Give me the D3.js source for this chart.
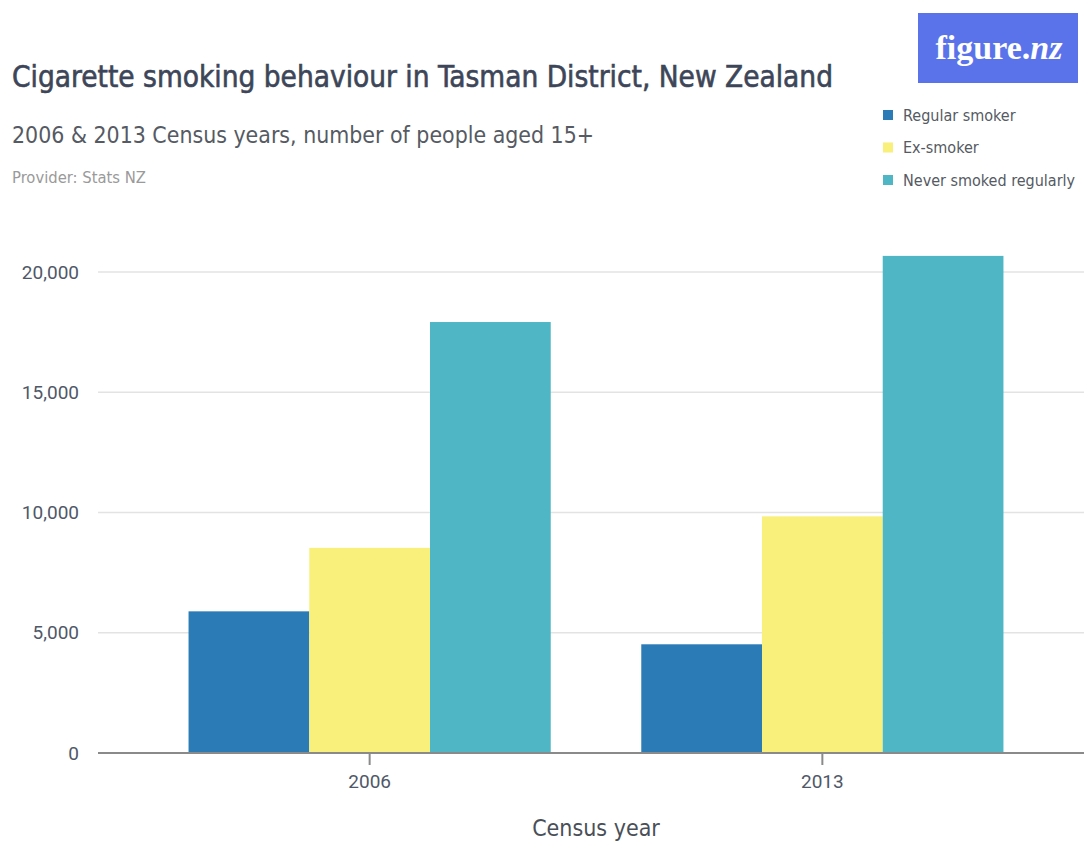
<!DOCTYPE html>
<html><head><meta charset="utf-8">
<script src="https://cdn.jsdelivr.net/npm/d3@7"></script>
<style>
html,body{margin:0;padding:0;background:#fff;}
svg{display:block;}
text{font-family:"Liberation Sans Narrow","DejaVu Sans Condensed","Roboto Condensed",Roboto,sans-serif;}
</style></head>
<body>
<svg id="chart" width="1084" height="841"></svg>
<script>
const categories = ["2006", "2013"];
const seriesNames = ["Regular smoker", "Ex-smoker", "Never smoked regularly"];
const regularSmoker = [5890, 4520];
const exSmoker = [8530, 9840];
const neverSmoked = [17920, 20670];
const yTicks = [0, 5000, 10000, 15000, 20000];
const colors = ["#2b7bb6", "#f8f07b", "#4fb6c5"];

const values = [regularSmoker, exSmoker, neverSmoked];
const data = categories.map((c, i) => ({cat: c, vals: seriesNames.map((s, j) => ({series: s, value: values[j][i], idx: j}))}));

const svg = d3.select("#chart");
const left = 98, baseY = 753, topY = 272;

const x0 = d3.scaleBand().domain(categories).range([left, 1094]).paddingInner(0.2).paddingOuter(0.2);
const x1 = d3.scaleBand().domain(seriesNames).range([0, x0.bandwidth()]);
const y = d3.scaleLinear().domain([0, 20000]).range([baseY, topY]);

// gridlines
svg.append("g").selectAll("line").data(yTicks.filter(d => d > 0)).join("line")
  .attr("x1", left).attr("x2", 1084)
  .attr("y1", d => y(d)).attr("y2", d => y(d))
  .attr("stroke", "#e3e3e3").attr("stroke-width", 1.5);

// y labels
svg.append("g").selectAll("text").data(yTicks).join("text")
  .attr("x", 79).attr("y", d => y(d)).attr("dy", "0.35em")
  .attr("text-anchor", "end").attr("fill", "#4f5868")
  .style("font-family", "Roboto, sans-serif").style("font-size", "19px")
  .text(d => d3.format(",")(d));

// bars
svg.append("g").selectAll("g").data(data).join("g")
  .attr("transform", d => `translate(${x0(d.cat)},0)`)
  .selectAll("rect").data(d => d.vals).join("rect")
  .attr("x", d => x1(d.series)).attr("width", x1.bandwidth())
  .attr("y", d => y(d.value)).attr("height", d => y(0) - y(d.value))
  .attr("fill", d => colors[d.idx]);

// x axis
const xAxis = d3.axisBottom(x0).tickSize(12).tickSizeOuter(0);
const gx = svg.append("g").attr("transform", `translate(0,${baseY})`).call(xAxis);
gx.select(".domain").attr("d", `M${left},0H1084`).attr("stroke", "#8a8a8a").attr("stroke-width", 2);
gx.selectAll(".tick line").attr("stroke", "#8a8a8a").attr("stroke-width", 2);
gx.selectAll(".tick text").attr("y", 28).attr("dy", "0.35em").attr("fill", "#4f5868")
  .style("font-family", "Roboto, sans-serif").style("font-size", "19px");

svg.append("text").attr("x", (left + 1094) / 2).attr("y", 836)
  .attr("text-anchor", "middle").attr("fill", "#4a4f57").style("font-size", "23px")
  .text("Census year");

// titles
svg.append("text").attr("x", 12).attr("y", 87).attr("fill", "#3d4658")
  .attr("stroke", "#3d4658").attr("stroke-width", 0.6)
  .style("font-size", "30px")
  .attr("textLength", 821).attr("lengthAdjust", "spacingAndGlyphs")
  .text("Cigarette smoking behaviour in Tasman District, New Zealand");
svg.append("text").attr("x", 12).attr("y", 143).attr("fill", "#555a63")
  .style("font-size", "23px")
  .attr("textLength", 582).attr("lengthAdjust", "spacingAndGlyphs")
  .text("2006 & 2013 Census years, number of people aged 15+");
svg.append("text").attr("x", 12).attr("y", 183).attr("fill", "#9a9a9a")
  .style("font-size", "15px")
  .attr("textLength", 134).attr("lengthAdjust", "spacingAndGlyphs")
  .text("Provider: Stats NZ");

// logo
svg.append("rect").attr("x", 918).attr("y", 13).attr("width", 160).attr("height", 70).attr("fill", "#5a73ea");
const logo = svg.append("text").attr("x", 999).attr("y", 59).attr("text-anchor", "middle")
  .attr("fill", "#fff").style("font-family", "'Liberation Serif', serif").style("font-size", "34px")
  .style("font-weight", "bold");
logo.append("tspan").text("figure.");
logo.append("tspan").style("font-style", "italic").text("nz");

// legend
const lg = svg.append("g").selectAll("g").data(seriesNames).join("g")
  .attr("transform", (d, i) => `translate(883,${115 + i * 32.5})`);
lg.append("rect").attr("x", 0).attr("y", -5).attr("width", 10).attr("height", 10).attr("fill", (d, i) => colors[i]);
lg.append("text").attr("x", 20).attr("y", 0).attr("dy", "0.35em").attr("fill", "#555a63")
  .style("font-size", "16px").text(d => d);
</script>
</body></html>
